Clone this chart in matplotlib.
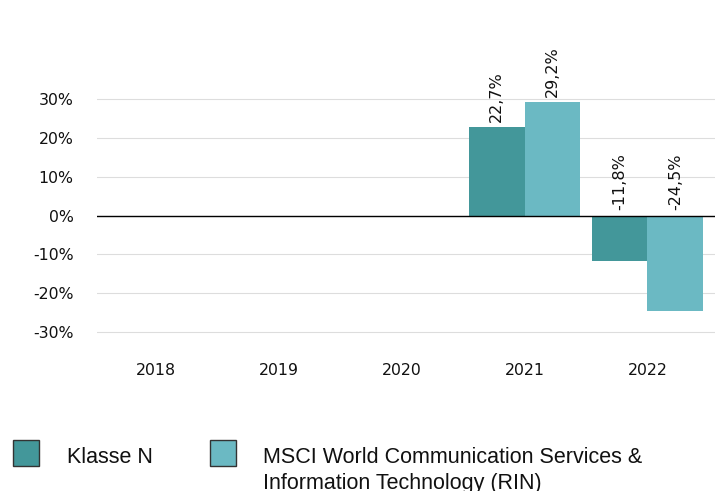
import numpy as np
import matplotlib
matplotlib.use("Agg")
import matplotlib.pyplot as plt
from matplotlib.patches import Rectangle

years = ["2018", "2019", "2020", "2021", "2022"]
klasse_n = [np.nan, np.nan, np.nan, 22.7, -11.8]
rin = [np.nan, np.nan, np.nan, 29.2, -24.5]
series_names = [["Klasse N"], ["MSCI World Communication Services &", "Information Technology (RIN)"]]
colors = ["#43979A", "#6BB9C3"]
yticks = [-30, -20, -10, 0, 10, 20, 30]

W, H = 715, 491
fig = plt.figure(figsize=(W / 100, H / 100), dpi=100)
ax = fig.add_axes([97 / W, 1 - 351.4 / H, (715 - 97) / W, (351.4 - 60.2) / H])

x = np.arange(len(years))
bw = 0.455
for i, (vals, c) in enumerate(zip([klasse_n, rin], colors)):
    pos = x + (i - 0.5) * bw
    ax.bar(pos, vals, width=bw, color=c, zorder=2)
    for p, v in zip(pos, vals):
        if np.isnan(v):
            continue
        base = max(v, 0)
        ax.annotate(f"{v:.1f}%".replace(".", ","), (p, base), xytext=(0, 4),
                    textcoords="offset points", rotation=90, ha="center", va="bottom",
                    fontsize=11.5, color="#111111", family="DejaVu Sans")

ax.set_xlim(-0.48, 4.55)
ax.set_ylim(-35, 40)
ax.set_yticks(yticks)
ax.set_yticklabels([f"{t}%" for t in yticks])
ax.set_xticks(x)
ax.set_xticklabels(years)
ax.tick_params(axis="both", length=0, labelsize=11.3, colors="#111111")
ax.tick_params(axis="y", pad=17)
ax.tick_params(axis="x", pad=8)
ax.grid(axis="y", color="#DDDDDD", linewidth=0.8, zorder=0)
ax.set_axisbelow(True)
ax.axhline(0, color="black", linewidth=1, zorder=3)
for s in ax.spines.values():
    s.set_visible(False)

# legend
leg_items = [(13, 67), (210, 263)]
for (sx, tx), c, lines in zip(leg_items, colors, series_names):
    fig.patches.append(Rectangle((sx / W, 1 - 466 / H), 26 / W, 26 / H, transform=fig.transFigure,
                                 facecolor=c, edgecolor="#333333", linewidth=1))
    for k, line in enumerate(lines):
        fig.text(tx / W, 1 - (463 + 26 * k) / H, line, ha="left", va="baseline", fontsize=15.5,
                 family="Liberation Sans", color="#111111")

fig.savefig("out.png", dpi=100)
